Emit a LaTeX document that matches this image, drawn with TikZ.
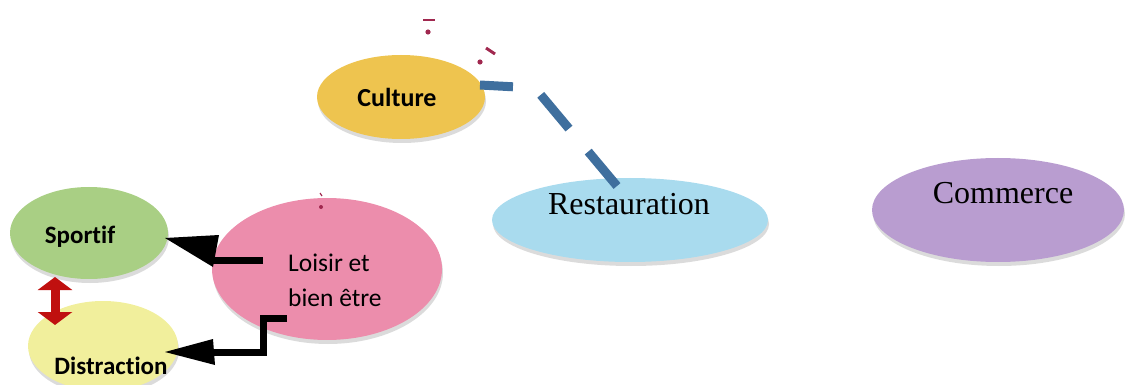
\documentclass[tikz,border=0pt]{standalone}
\usepackage{fontspec}
\setmainfont{Liberation Serif}
\newfontfamily\calfont[Ligatures=NoCommon]{Carlito}
\usetikzlibrary{shadows,arrows.meta,shapes.geometric}
\definecolor{cCult}{HTML}{EEC44F}
\definecolor{cRest}{HTML}{A9DBEE}
\definecolor{cComm}{HTML}{B99DD0}
\definecolor{cSport}{HTML}{A9CF84}
\definecolor{cDist}{HTML}{F1EF9C}
\definecolor{cLois}{HTML}{EC8DAC}
\definecolor{cBlue}{HTML}{3F6F9E}
\definecolor{cRed}{HTML}{C0100F}
\definecolor{cMark}{HTML}{A0284F}
\tikzset{
  shad/.style={drop shadow={shadow xshift=1pt,shadow yshift=-4pt,fill=black!35,opacity=0.4}},
  lab/.style={inner sep=0pt},
  blk/.style={line width=7pt,black},
  smallmark/.style={cMark,line width=3pt}
}
\begin{document}
\begin{tikzpicture}[x=1pt,y=-1pt]
\useasboundingbox (0,0) rectangle (1125,385);
% ellipses
\fill[cCult,shad] (401,97) ellipse [x radius=84,y radius=42];
\node[lab,font=\calfont\bfseries\fontsize{26}{30}\selectfont] (cult) at (397,97) {Culture};
\fill[cRest,shad] (630,220) ellipse [x radius=138,y radius=42];
\node[lab,font=\fontsize{32}{36}\selectfont] (rest) at (629,204) {Restauration};
\fill[cComm,shad] (998,210) ellipse [x radius=126,y radius=52];
\node[lab,font=\fontsize{32}{36}\selectfont] (comm) at (1003,193) {Commerce};
\fill[cSport,shad] (89,233) ellipse [x radius=79,y radius=46];
\node[lab,font=\calfont\bfseries\fontsize{25}{29}\selectfont] (sport) at (80,237) {Sportif};
\fill[cDist,shad] (103,346) ellipse [x radius=75,y radius=45];
\node[lab,font=\calfont\bfseries\fontsize{25}{29}\selectfont] (dist) at (111,366) {Distraction};
\fill[cLois,shad] (327,269) ellipse [x radius=115,y radius=71];
\node[lab,align=left,font=\calfont\fontsize{25.5}{35}\selectfont,anchor=west] (lois) at (288,280) {Loisir et\\bien être};
% named anchor points for connectors
\coordinate (l1) at (263,260);
\coordinate (s1) at (165,238);
\coordinate (l2) at (287,318);
\coordinate (d1) at (165,352);
\coordinate (sp) at (55,277);
\coordinate (ds) at (55,325);
\coordinate (c1) at (480,85);
\coordinate (r1) at (617,186);
% black arrows
\draw[blk] (l1) -- (212,260);
\fill[black] (s1) -- (219,235) -- (213,267) -- cycle;
\draw[blk] (l2) -- (263,318) -- (263,352) -- (212,352);
\fill[black] (d1) -- (213,339) -- (215,365) -- cycle;
% red double arrow
\draw[cRed,line width=9pt,{Triangle[width=34pt,length=13pt]}-{Triangle[width=34pt,length=13pt]}] (sp) -- (ds);
% blue dashed connector
\draw[cBlue,line width=9pt,dash pattern=on 33pt off 31pt on 44pt off 30pt on 45pt] (c1) -- (535,88) -- (r1);
% small marks
\draw[smallmark,line width=2pt] (423,20) -- (435,20);
\fill[cMark] (428,32) circle (2.6);
\draw[smallmark] (486,48) -- (495,54);
\fill[cMark] (480,62) circle (2.6);
\draw[cMark,line width=1.2pt] (320,193) -- (322,196);
\fill[cMark] (321,207) circle (2);
\end{tikzpicture}
\end{document}
